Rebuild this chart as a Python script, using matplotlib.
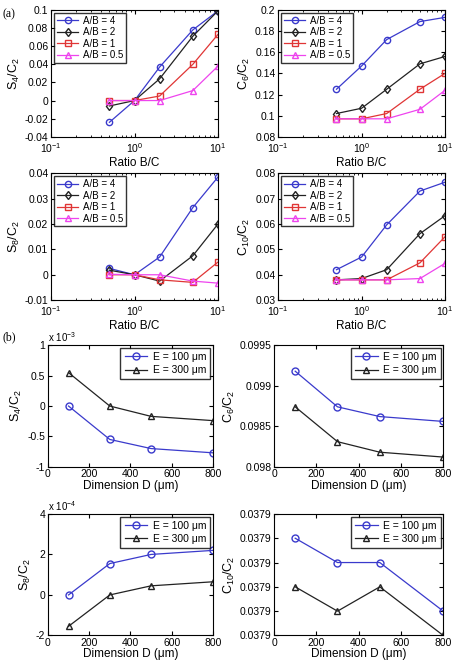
import numpy as np
import matplotlib
matplotlib.use('Agg')
import matplotlib.pyplot as plt
from matplotlib.ticker import FormatStrFormatter, LogLocator, NullFormatter

plt.rcParams['font.family'] = ['Liberation Sans', 'DejaVu Sans']
plt.rcParams['mathtext.default'] = 'regular'

# (a) ratio B/C sweep
ratio_bc = [0.5, 1, 2, 5, 10]
ab_labels = ['A/B = 4', 'A/B = 2', 'A/B = 1', 'A/B = 0.5']

s4_a = [[-0.024, 0.0, 0.037, 0.078, 0.099],
        [-0.006, 0.0, 0.024, 0.071, 0.099],
        [0.0, 0.0, 0.005, 0.040, 0.073],
        [0.0, 0.0, 0.0, 0.011, 0.038]]
c6_a = [[0.125, 0.147, 0.172, 0.189, 0.193],
        [0.102, 0.107, 0.125, 0.149, 0.156],
        [0.097, 0.097, 0.102, 0.125, 0.140],
        [0.097, 0.097, 0.097, 0.106, 0.124]]
s8_a = [[0.0025, 0.0, 0.007, 0.0265, 0.0385],
        [0.0018, 0.0, -0.0025, 0.0075, 0.020],
        [0.0, 0.0, -0.002, -0.003, 0.005],
        [0.0002, 0.0, 0.0, -0.0025, -0.0033]]
c10_a = [[0.042, 0.047, 0.0597, 0.073, 0.0765],
         [0.038, 0.0385, 0.042, 0.0562, 0.0633],
         [0.038, 0.038, 0.038, 0.0447, 0.055],
         [0.038, 0.038, 0.038, 0.0385, 0.0445]]

# (b) dimension D sweep
dim_d = [100, 300, 500, 800]
e_labels = ['E = 100 μm', 'E = 300 μm']
s4_b = [[0.0, -0.55, -0.70, -0.77],      # x 1e-3
        [0.55, 0.0, -0.17, -0.24]]
c6_b = [[0.09918, 0.09874, 0.09862, 0.09856],
        [0.09874, 0.09831, 0.09818, 0.09812]]
s8_b = [[0.0, 1.55, 2.0, 2.2],           # x 1e-4
        [-1.55, 0.0, 0.45, 0.65]]
c10_base = 0.0379
c10_step = 2e-9
c10_b = [[c10_base + 4 * c10_step, c10_base + 3 * c10_step, c10_base + 3 * c10_step, c10_base + 1 * c10_step],
         [c10_base + 2 * c10_step, c10_base + 1 * c10_step, c10_base + 2 * c10_step, c10_base]]

colors_a = ['#3a3acc', '#222222', '#e03535', '#ee44ee']
markers_a = ['o', 'd', 's', '^']
colors_b = ['#3a3acc', '#222222']
markers_b = ['o', '^']

fig = plt.figure(figsize=(4.56, 6.64), dpi=100)


def style(ax):
    ax.tick_params(direction='in', top=True, right=True, labelsize=7.5, length=3, pad=2)
    ax.tick_params(which='minor', direction='in', top=True, right=True, length=1.5)
    for s in ax.spines.values():
        s.set_linewidth(0.8)


def panel_a(rect, series, ylim, yticks, fmt, ylabel):
    ax = fig.add_axes(rect)
    for vals, c, m, lab in zip(series, colors_a, markers_a, ab_labels):
        ax.plot(ratio_bc, vals, color=c, marker=m, markersize=4.5, mfc='none',
                mec=c, linewidth=0.9, label=lab)
    ax.set_xscale('log')
    ax.set_xlim(0.1, 10)
    ax.set_ylim(*ylim)
    ax.set_yticks(yticks)
    ax.yaxis.set_major_formatter(FormatStrFormatter(fmt))
    ax.xaxis.set_minor_locator(LogLocator(subs=np.arange(2, 10)))
    ax.xaxis.set_minor_formatter(NullFormatter())
    ax.set_xlabel('Ratio B/C', fontsize=8.5, labelpad=1.5)
    ax.set_ylabel(ylabel, fontsize=9, labelpad=2)
    style(ax)
    ax.tick_params(axis='x', pad=3)
    ax.legend(loc='upper left', fontsize=7, frameon=True, fancybox=False,
              edgecolor='black', borderpad=0.3, labelspacing=0.15,
              handlelength=2.2, handletextpad=0.5, borderaxespad=0.3)
    return ax


def panel_b(rect, series, ylim, yticks, fmt, ylabel, mult=None):
    ax = fig.add_axes(rect)
    for vals, c, m, lab in zip(series, colors_b, markers_b, e_labels):
        ax.plot(dim_d, vals, color=c, marker=m, markersize=5, mfc='none',
                mec=c, linewidth=0.9, label=lab)
    ax.set_xlim(0, 800)
    ax.set_xticks([0, 200, 400, 600, 800])
    ax.set_ylim(*ylim)
    ax.set_yticks(yticks)
    ax.yaxis.set_major_formatter(FormatStrFormatter(fmt))
    ax.set_xlabel('Dimension D (μm)', fontsize=8.5, labelpad=0.5)
    ax.set_ylabel(ylabel, fontsize=9, labelpad=2)
    style(ax)
    ax.tick_params(axis='x', pad=1.5)
    ax.legend(loc='upper right', fontsize=7.5, frameon=True, fancybox=False,
              edgecolor='black', borderpad=0.4, labelspacing=0.3,
              handlelength=2.2, handletextpad=0.5, borderaxespad=0.25)
    if mult:
        ax.text(0.0, 1.01, 'x 10$^{%s}$' % mult, transform=ax.transAxes,
                fontsize=7, ha='left', va='bottom')
    return ax


wa, ha = 0.366, 0.191
panel_a([0.112, 0.794, wa, ha], s4_a, (-0.04, 0.1), np.arange(-0.04, 0.101, 0.02), '%g', 'S$_4$/C$_2$')
panel_a([0.610, 0.794, wa, ha], c6_a, (0.08, 0.2), np.arange(0.08, 0.201, 0.02), '%g', 'C$_6$/C$_2$')
panel_a([0.112, 0.548, wa, ha], s8_a, (-0.01, 0.04), np.arange(-0.01, 0.041, 0.01), '%g', 'S$_8$/C$_2$')
panel_a([0.610, 0.548, wa, ha], c10_a, (0.03, 0.08), np.arange(0.03, 0.081, 0.01), '%g', 'C$_{10}$/C$_2$')

hb = 0.183
panel_b([0.105, 0.297, 0.362, hb], s4_b, (-1, 1), [-1, -0.5, 0, 0.5, 1], '%g', 'S$_4$/C$_2$', mult='-3')
panel_b([0.601, 0.297, 0.371, hb], c6_b, (0.098, 0.0995), [0.098, 0.0985, 0.099, 0.0995], '%g', 'C$_6$/C$_2$')
panel_b([0.105, 0.043, 0.362, hb], s8_b, (-2, 4), [-2, 0, 2, 4], '%g', 'S$_8$/C$_2$', mult='-4')
panel_b([0.601, 0.043, 0.371, hb], c10_b, (c10_base, c10_base + 5 * c10_step),
        c10_base + np.arange(6) * c10_step, '%.4f', 'C$_{10}$/C$_2$')

fig.text(0.005, 0.978, '(a)', fontsize=8.5, family='Liberation Serif', va='center')
fig.text(0.005, 0.492, '(b)', fontsize=8.5, family='Liberation Serif', va='center')

fig.savefig('out.png', dpi=100)
